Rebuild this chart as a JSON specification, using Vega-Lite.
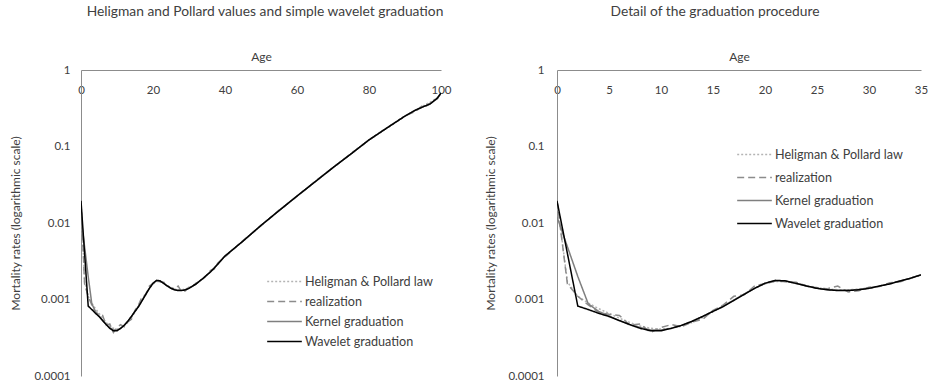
{
  "$schema": "https://vega.github.io/schema/vega-lite/v6.json",
  "padding": {"left": 9, "top": 5, "right": 0, "bottom": 2},
  "spacing": 32,
  "config": {
    "font": "Lato",
    "view": {"stroke": null},
    "axis": {"domainColor": "#8c8c8c", "ticks": false, "grid": false, "labelColor": "#404040", "titleColor": "#404040", "labelFontSize": 11.5, "titleFontSize": 12, "titleFontWeight": "normal"},
    "title": {"fontSize": 13.8, "fontWeight": "normal", "color": "#404040", "anchor": "middle", "frame": "group", "offset": 31},
    "legend": {"padding": 0, "labelFontSize": 12.6, "labelColor": "#404040", "symbolType": "M-2,0H2", "symbolSize": 300, "labelOffset": 11}
  },
  "datasets": {
    "m": [
      {"age":0,"q":0.0195,"s":"Heligman & Pollard law"},{"age":1,"q":0.0017,"s":"Heligman & Pollard law"},{"age":2,"q":0.0011,"s":"Heligman & Pollard law"},{"age":3,"q":0.0009,"s":"Heligman & Pollard law"},{"age":4,"q":0.00076,"s":"Heligman & Pollard law"},{"age":5,"q":0.00066,"s":"Heligman & Pollard law"},{"age":6,"q":0.00057,"s":"Heligman & Pollard law"},{"age":7,"q":0.0005,"s":"Heligman & Pollard law"},{"age":8,"q":0.00045,"s":"Heligman & Pollard law"},{"age":9,"q":0.00042,"s":"Heligman & Pollard law"},{"age":10,"q":0.00041,"s":"Heligman & Pollard law"},{"age":11,"q":0.00042,"s":"Heligman & Pollard law"},{"age":12,"q":0.00045,"s":"Heligman & Pollard law"},{"age":13,"q":0.0005,"s":"Heligman & Pollard law"},{"age":14,"q":0.00058,"s":"Heligman & Pollard law"},{"age":15,"q":0.00069,"s":"Heligman & Pollard law"},{"age":16,"q":0.00082,"s":"Heligman & Pollard law"},{"age":17,"q":0.00098,"s":"Heligman & Pollard law"},{"age":18,"q":0.00118,"s":"Heligman & Pollard law"},{"age":19,"q":0.0014,"s":"Heligman & Pollard law"},{"age":20,"q":0.0016,"s":"Heligman & Pollard law"},{"age":21,"q":0.00172,"s":"Heligman & Pollard law"},{"age":22,"q":0.00172,"s":"Heligman & Pollard law"},{"age":23,"q":0.00163,"s":"Heligman & Pollard law"},{"age":24,"q":0.00152,"s":"Heligman & Pollard law"},{"age":25,"q":0.00143,"s":"Heligman & Pollard law"},{"age":26,"q":0.00137,"s":"Heligman & Pollard law"},{"age":27,"q":0.00134,"s":"Heligman & Pollard law"},{"age":28,"q":0.00134,"s":"Heligman & Pollard law"},{"age":29,"q":0.00137,"s":"Heligman & Pollard law"},{"age":30,"q":0.00142,"s":"Heligman & Pollard law"},{"age":31,"q":0.0015,"s":"Heligman & Pollard law"},{"age":32,"q":0.0016,"s":"Heligman & Pollard law"},{"age":33,"q":0.00174,"s":"Heligman & Pollard law"},{"age":34,"q":0.0019,"s":"Heligman & Pollard law"},{"age":35,"q":0.0021,"s":"Heligman & Pollard law"},{"age":36,"q":0.0023,"s":"Heligman & Pollard law"},{"age":38,"q":0.0029,"s":"Heligman & Pollard law"},{"age":40,"q":0.0037,"s":"Heligman & Pollard law"},{"age":45,"q":0.0058,"s":"Heligman & Pollard law"},{"age":50,"q":0.0093,"s":"Heligman & Pollard law"},{"age":55,"q":0.0145,"s":"Heligman & Pollard law"},{"age":60,"q":0.0225,"s":"Heligman & Pollard law"},{"age":65,"q":0.0345,"s":"Heligman & Pollard law"},{"age":70,"q":0.053,"s":"Heligman & Pollard law"},{"age":75,"q":0.08,"s":"Heligman & Pollard law"},{"age":80,"q":0.122,"s":"Heligman & Pollard law"},{"age":85,"q":0.175,"s":"Heligman & Pollard law"},{"age":90,"q":0.25,"s":"Heligman & Pollard law"},{"age":93,"q":0.3,"s":"Heligman & Pollard law"},{"age":95,"q":0.34,"s":"Heligman & Pollard law"},{"age":97,"q":0.38,"s":"Heligman & Pollard law"},{"age":99,"q":0.44,"s":"Heligman & Pollard law"},{"age":100,"q":0.49,"s":"Heligman & Pollard law"},

      {"age":0,"q":0.0195,"s":"realization"},{"age":1,"q":0.0016,"s":"realization"},{"age":2,"q":0.0011,"s":"realization"},{"age":3,"q":0.00085,"s":"realization"},{"age":4,"q":0.00068,"s":"realization"},{"age":5,"q":0.00064,"s":"realization"},{"age":6,"q":0.00062,"s":"realization"},{"age":7,"q":0.00046,"s":"realization"},{"age":8,"q":0.00048,"s":"realization"},{"age":9,"q":0.00037,"s":"realization"},{"age":10,"q":0.00043,"s":"realization"},{"age":11,"q":0.00047,"s":"realization"},{"age":12,"q":0.00044,"s":"realization"},{"age":13,"q":0.00051,"s":"realization"},{"age":14,"q":0.00055,"s":"realization"},{"age":15,"q":0.00072,"s":"realization"},{"age":16,"q":0.00085,"s":"realization"},{"age":17,"q":0.0011,"s":"realization"},{"age":18,"q":0.00115,"s":"realization"},{"age":19,"q":0.0015,"s":"realization"},{"age":20,"q":0.00162,"s":"realization"},{"age":21,"q":0.00175,"s":"realization"},{"age":22,"q":0.0017,"s":"realization"},{"age":23,"q":0.00168,"s":"realization"},{"age":24,"q":0.0015,"s":"realization"},{"age":25,"q":0.00142,"s":"realization"},{"age":26,"q":0.00138,"s":"realization"},{"age":27,"q":0.0015,"s":"realization"},{"age":28,"q":0.00125,"s":"realization"},{"age":29,"q":0.0013,"s":"realization"},{"age":30,"q":0.00145,"s":"realization"},{"age":31,"q":0.00148,"s":"realization"},{"age":32,"q":0.00165,"s":"realization"},{"age":33,"q":0.0017,"s":"realization"},{"age":34,"q":0.0019,"s":"realization"},{"age":35,"q":0.0021,"s":"realization"},{"age":36,"q":0.0024,"s":"realization"},{"age":37,"q":0.0025,"s":"realization"},{"age":38,"q":0.003,"s":"realization"},{"age":40,"q":0.0036,"s":"realization"},{"age":45,"q":0.0059,"s":"realization"},{"age":50,"q":0.0092,"s":"realization"},{"age":55,"q":0.0147,"s":"realization"},{"age":60,"q":0.0222,"s":"realization"},{"age":65,"q":0.035,"s":"realization"},{"age":70,"q":0.053,"s":"realization"},{"age":75,"q":0.081,"s":"realization"},{"age":80,"q":0.121,"s":"realization"},{"age":85,"q":0.176,"s":"realization"},{"age":90,"q":0.25,"s":"realization"},{"age":93,"q":0.29,"s":"realization"},{"age":95,"q":0.345,"s":"realization"},{"age":96,"q":0.34,"s":"realization"},{"age":97,"q":0.37,"s":"realization"},{"age":99,"q":0.42,"s":"realization"},{"age":100,"q":0.5,"s":"realization"},

      {"age":0,"q":0.012,"s":"Kernel graduation"},{"age":1,"q":0.0049,"s":"Kernel graduation"},{"age":2,"q":0.002,"s":"Kernel graduation"},{"age":3,"q":0.00088,"s":"Kernel graduation"},{"age":4,"q":0.0007,"s":"Kernel graduation"},{"age":5,"q":0.00061,"s":"Kernel graduation"},{"age":6,"q":0.00053,"s":"Kernel graduation"},{"age":7,"q":0.00047,"s":"Kernel graduation"},{"age":8,"q":0.00043,"s":"Kernel graduation"},{"age":9,"q":0.0004,"s":"Kernel graduation"},{"age":10,"q":0.0004,"s":"Kernel graduation"},{"age":11,"q":0.00042,"s":"Kernel graduation"},{"age":12,"q":0.00046,"s":"Kernel graduation"},{"age":13,"q":0.00052,"s":"Kernel graduation"},{"age":14,"q":0.0006,"s":"Kernel graduation"},{"age":15,"q":0.0007,"s":"Kernel graduation"},{"age":16,"q":0.00082,"s":"Kernel graduation"},{"age":17,"q":0.00098,"s":"Kernel graduation"},{"age":18,"q":0.00118,"s":"Kernel graduation"},{"age":19,"q":0.0014,"s":"Kernel graduation"},{"age":20,"q":0.00162,"s":"Kernel graduation"},{"age":21,"q":0.00176,"s":"Kernel graduation"},{"age":22,"q":0.00174,"s":"Kernel graduation"},{"age":23,"q":0.00162,"s":"Kernel graduation"},{"age":24,"q":0.0015,"s":"Kernel graduation"},{"age":25,"q":0.0014,"s":"Kernel graduation"},{"age":26,"q":0.00134,"s":"Kernel graduation"},{"age":27,"q":0.00132,"s":"Kernel graduation"},{"age":28,"q":0.00132,"s":"Kernel graduation"},{"age":29,"q":0.00135,"s":"Kernel graduation"},{"age":30,"q":0.0014,"s":"Kernel graduation"},{"age":31,"q":0.0015,"s":"Kernel graduation"},{"age":32,"q":0.0016,"s":"Kernel graduation"},{"age":33,"q":0.00175,"s":"Kernel graduation"},{"age":34,"q":0.0019,"s":"Kernel graduation"},{"age":35,"q":0.0021,"s":"Kernel graduation"},{"age":36,"q":0.0023,"s":"Kernel graduation"},{"age":38,"q":0.0029,"s":"Kernel graduation"},{"age":40,"q":0.0037,"s":"Kernel graduation"},{"age":45,"q":0.0058,"s":"Kernel graduation"},{"age":50,"q":0.0093,"s":"Kernel graduation"},{"age":55,"q":0.0145,"s":"Kernel graduation"},{"age":60,"q":0.0225,"s":"Kernel graduation"},{"age":65,"q":0.0345,"s":"Kernel graduation"},{"age":70,"q":0.053,"s":"Kernel graduation"},{"age":75,"q":0.08,"s":"Kernel graduation"},{"age":80,"q":0.122,"s":"Kernel graduation"},{"age":85,"q":0.175,"s":"Kernel graduation"},{"age":90,"q":0.25,"s":"Kernel graduation"},{"age":93,"q":0.3,"s":"Kernel graduation"},{"age":95,"q":0.33,"s":"Kernel graduation"},{"age":97,"q":0.36,"s":"Kernel graduation"},{"age":99,"q":0.43,"s":"Kernel graduation"},{"age":100,"q":0.5,"s":"Kernel graduation"},

      {"age":0,"q":0.0195,"s":"Wavelet graduation"},{"age":1,"q":0.004,"s":"Wavelet graduation"},{"age":2,"q":0.00082,"s":"Wavelet graduation"},{"age":3,"q":0.00074,"s":"Wavelet graduation"},{"age":4,"q":0.00066,"s":"Wavelet graduation"},{"age":5,"q":0.0006,"s":"Wavelet graduation"},{"age":6,"q":0.00053,"s":"Wavelet graduation"},{"age":7,"q":0.00047,"s":"Wavelet graduation"},{"age":8,"q":0.00042,"s":"Wavelet graduation"},{"age":9,"q":0.00039,"s":"Wavelet graduation"},{"age":10,"q":0.00039,"s":"Wavelet graduation"},{"age":11,"q":0.00042,"s":"Wavelet graduation"},{"age":12,"q":0.00046,"s":"Wavelet graduation"},{"age":13,"q":0.00052,"s":"Wavelet graduation"},{"age":14,"q":0.0006,"s":"Wavelet graduation"},{"age":15,"q":0.0007,"s":"Wavelet graduation"},{"age":16,"q":0.00081,"s":"Wavelet graduation"},{"age":17,"q":0.00097,"s":"Wavelet graduation"},{"age":18,"q":0.00117,"s":"Wavelet graduation"},{"age":19,"q":0.0014,"s":"Wavelet graduation"},{"age":20,"q":0.00163,"s":"Wavelet graduation"},{"age":21,"q":0.00178,"s":"Wavelet graduation"},{"age":22,"q":0.00175,"s":"Wavelet graduation"},{"age":23,"q":0.00162,"s":"Wavelet graduation"},{"age":24,"q":0.0015,"s":"Wavelet graduation"},{"age":25,"q":0.0014,"s":"Wavelet graduation"},{"age":26,"q":0.00134,"s":"Wavelet graduation"},{"age":27,"q":0.00131,"s":"Wavelet graduation"},{"age":28,"q":0.00131,"s":"Wavelet graduation"},{"age":29,"q":0.00134,"s":"Wavelet graduation"},{"age":30,"q":0.0014,"s":"Wavelet graduation"},{"age":31,"q":0.0015,"s":"Wavelet graduation"},{"age":32,"q":0.0016,"s":"Wavelet graduation"},{"age":33,"q":0.00175,"s":"Wavelet graduation"},{"age":34,"q":0.0019,"s":"Wavelet graduation"},{"age":35,"q":0.0021,"s":"Wavelet graduation"},{"age":36,"q":0.0023,"s":"Wavelet graduation"},{"age":38,"q":0.0029,"s":"Wavelet graduation"},{"age":40,"q":0.0037,"s":"Wavelet graduation"},{"age":45,"q":0.0058,"s":"Wavelet graduation"},{"age":50,"q":0.0093,"s":"Wavelet graduation"},{"age":55,"q":0.0145,"s":"Wavelet graduation"},{"age":60,"q":0.0225,"s":"Wavelet graduation"},{"age":65,"q":0.0345,"s":"Wavelet graduation"},{"age":70,"q":0.053,"s":"Wavelet graduation"},{"age":75,"q":0.08,"s":"Wavelet graduation"},{"age":80,"q":0.122,"s":"Wavelet graduation"},{"age":85,"q":0.175,"s":"Wavelet graduation"},{"age":90,"q":0.25,"s":"Wavelet graduation"},{"age":93,"q":0.3,"s":"Wavelet graduation"},{"age":95,"q":0.33,"s":"Wavelet graduation"},{"age":97,"q":0.36,"s":"Wavelet graduation"},{"age":99,"q":0.43,"s":"Wavelet graduation"},{"age":100,"q":0.5,"s":"Wavelet graduation"}
    ]
  },
  "resolve": {
    "scale": {"x": "independent", "y": "independent", "color": "independent", "strokeDash": "independent", "strokeWidth": "independent"},
    "legend": {"color": "independent", "strokeDash": "independent", "strokeWidth": "independent"}
  },
  "hconcat": [
    {
      "title": {"text": "Heligman and Pollard values and simple wavelet graduation", "dx": 4},
      "width": 360,
      "height": 306,
      "data": {"name": "m"},
      "mark": {"type": "line", "clip": true},
      "encoding": {
        "x": {"field": "age", "type": "quantitative", "scale": {"domain": [0, 100], "nice": false},
          "axis": {"orient": "top", "title": "Age", "values": [0, 20, 40, 60, 80, 100], "labelPadding": -20, "labelBaseline": "middle", "labelFlush": false, "titlePadding": 7}},
        "y": {"field": "q", "type": "quantitative", "scale": {"type": "log", "domain": [0.0001, 1], "nice": false},
          "axis": {"title": "Mortality rates (logarithmic scale)", "values": [0.0001, 0.001, 0.01, 0.1, 1], "format": "~g", "labelPadding": 11, "titlePadding": 11}},
        "color": {"field": "s", "type": "nominal",
          "scale": {"domain": ["Heligman & Pollard law", "realization", "Kernel graduation", "Wavelet graduation"], "range": ["#b4b4b4", "#8c8c8c", "#7f7f7f", "#000000"]},
          "legend": {"title": null, "orient": "none", "legendX": 194, "legendY": 202, "rowPadding": 3}},
        "strokeDash": {"field": "s", "type": "nominal",
          "scale": {"domain": ["Heligman & Pollard law", "realization", "Kernel graduation", "Wavelet graduation"], "range": [[2, 2], [7, 4], [1, 0], [1, 0]]},
          "legend": {"title": null, "orient": "none", "legendX": 194, "legendY": 202, "rowPadding": 3}},
        "strokeWidth": {"field": "s", "type": "nominal",
          "scale": {"domain": ["Heligman & Pollard law", "realization", "Kernel graduation", "Wavelet graduation"], "range": [1.5, 1.5, 1.5, 2]},
          "legend": {"title": null, "orient": "none", "legendX": 194, "legendY": 202, "rowPadding": 3}}
      }
    },
    {
      "title": {"text": "Detail of the graduation procedure", "dx": -24},
      "width": 364,
      "height": 306,
      "data": {"name": "m"},
      "transform": [{"filter": "datum.age <= 35"}],
      "mark": {"type": "line", "clip": true},
      "encoding": {
        "x": {"field": "age", "type": "quantitative", "scale": {"domain": [0, 35], "nice": false},
          "axis": {"orient": "top", "title": "Age", "values": [0, 5, 10, 15, 20, 25, 30, 35], "labelPadding": -20, "labelBaseline": "middle", "labelFlush": false, "titlePadding": 7}},
        "y": {"field": "q", "type": "quantitative", "scale": {"type": "log", "domain": [0.0001, 1], "nice": false},
          "axis": {"title": "Mortality rates (logarithmic scale)", "values": [0.0001, 0.001, 0.01, 0.1, 1], "format": "~g", "labelPadding": 13, "titlePadding": 10}},
        "color": {"field": "s", "type": "nominal",
          "scale": {"domain": ["Heligman & Pollard law", "realization", "Kernel graduation", "Wavelet graduation"], "range": ["#b4b4b4", "#8c8c8c", "#7f7f7f", "#000000"]},
          "legend": {"title": null, "orient": "none", "legendX": 188, "legendY": 75, "rowPadding": 6}},
        "strokeDash": {"field": "s", "type": "nominal",
          "scale": {"domain": ["Heligman & Pollard law", "realization", "Kernel graduation", "Wavelet graduation"], "range": [[2, 2], [7, 4], [1, 0], [1, 0]]},
          "legend": {"title": null, "orient": "none", "legendX": 188, "legendY": 75, "rowPadding": 6}},
        "strokeWidth": {"field": "s", "type": "nominal",
          "scale": {"domain": ["Heligman & Pollard law", "realization", "Kernel graduation", "Wavelet graduation"], "range": [1.5, 1.5, 1.5, 2]},
          "legend": {"title": null, "orient": "none", "legendX": 188, "legendY": 75, "rowPadding": 6}}
      }
    }
  ]
}
